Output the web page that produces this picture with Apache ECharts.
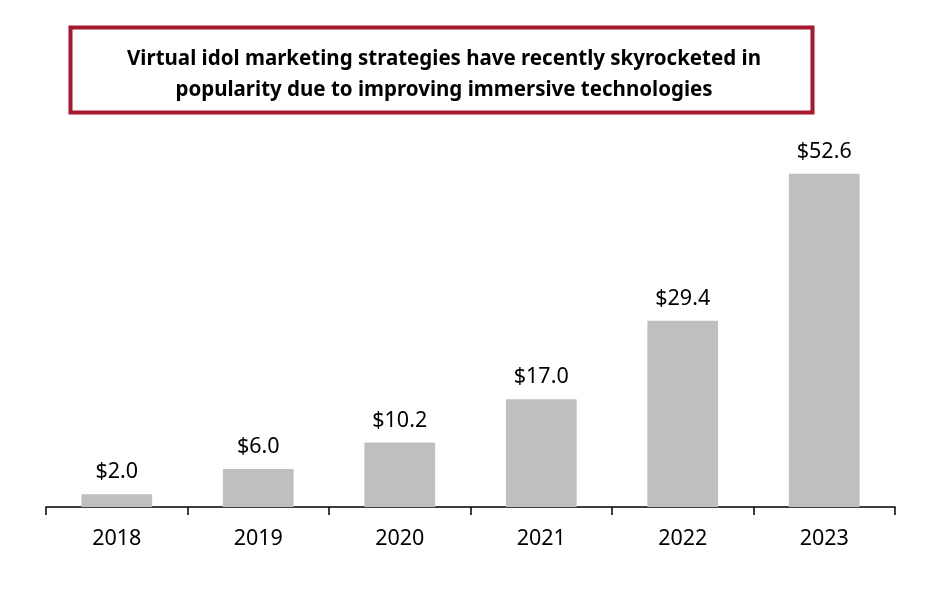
<!DOCTYPE html>
<html>
<head>
<meta charset="utf-8">
<script src="https://cdn.jsdelivr.net/npm/echarts@6/dist/echarts.min.js"></script>
<style>html,body{margin:0;padding:0;background:#fff;}#c{width:932px;height:598px;}</style>
</head>
<body>
<div id="c"></div>
<script>
const categories = ['2018', '2019', '2020', '2021', '2022', '2023'];
const values = [2.0, 6.0, 10.2, 17.0, 29.4, 52.6];
const titleLines = ['Virtual idol marketing strategies have recently skyrocketed in', 'popularity due to improving immersive technologies'];

const chart = echarts.init(document.getElementById('c'), null, {renderer: 'canvas'});
const font = '"Noto Sans", "Open Sans", sans-serif';
chart.setOption({
  backgroundColor: '#ffffff',
  animation: false,
  title: {
    text: titleLines.join('\n'),
    left: 439, top: 39, textAlign: 'center',
    textStyle: {fontFamily: font, fontWeight: 'bold', fontSize: 20.5, lineHeight: 31, color: '#000'}
  },
  graphic: [{
    type: 'rect', left: 68, top: 25, silent: true,
    shape: {width: 742, height: 85},
    style: {fill: 'none', stroke: '#A6192E', lineWidth: 4}
  }],
  grid: {left: 46, right: 37, top: 127, bottom: 91, containLabel: false},
  xAxis: {
    type: 'category', data: categories,
    axisLine: {lineStyle: {color: '#000', width: 1.5}},
    axisTick: {show: true, length: 8, lineStyle: {color: '#000', width: 1.5}},
    axisLabel: {fontFamily: font, fontSize: 21.5, color: '#000', margin: 21}
  },
  yAxis: {type: 'value', min: 0, max: 60, show: false, splitLine: {show: false}},
  series: [{
    type: 'bar', data: values, barCategoryGap: '50%',
    itemStyle: {color: '#BFBFBF'},
    label: {show: true, position: 'top', distance: 11, fontFamily: font, fontSize: 21.5, color: '#000',
      formatter: p => '$' + p.value.toFixed(1)}
  }]
});
</script>
</body>
</html>
